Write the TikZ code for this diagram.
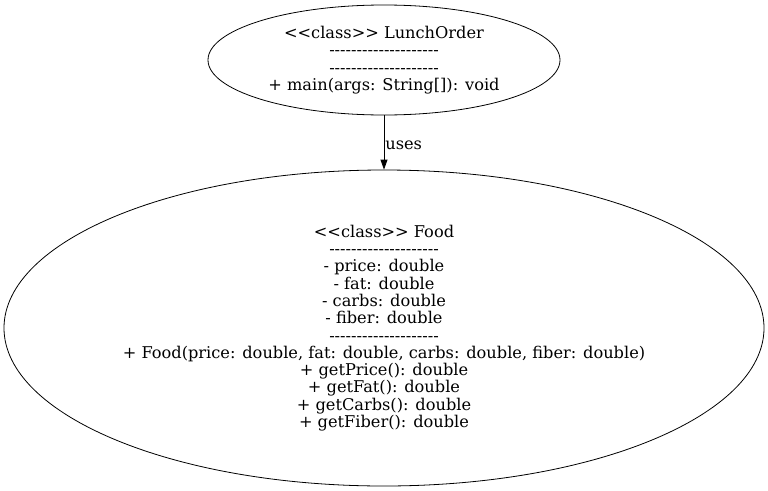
\documentclass[tikz,border=0pt]{standalone}
\usepackage{fontspec}
\setmainfont{DejaVu Serif}
\usetikzlibrary{shapes.geometric,arrows.meta}
\newcommand{\hyrow}{-\kern0pt-\kern0pt-\kern0pt-\kern0pt-\kern0pt-\kern0pt-\kern0pt-\kern0pt-\kern0pt-\kern0pt-\kern0pt-\kern0pt-\kern0pt-\kern0pt-\kern0pt-\kern0pt-\kern0pt-\kern0pt-\kern0pt-}
\newcommand{\stereo}{<\kern0pt<class>\kern0pt>}
\begin{document}
\begin{tikzpicture}[x=1pt,y=-1pt,
  classnode/.style={draw=black,line width=0.8pt,ellipse,inner sep=0pt,align=center,
    font=\fontsize{16.2}{17.3}\selectfont},
  edge/.style={draw=black,line width=0.8pt,-{Triangle[length=10pt,width=7pt]}},
  lbl/.style={font=\fontsize{16.2}{17}\selectfont,inner sep=0pt,anchor=west}]
\useasboundingbox (0,0) rectangle (768,490);
\node[classnode,minimum width=352pt,minimum height=110pt] (lunch) at (384,60)
  {\stereo{} LunchOrder\\ \hyrow\\ \hyrow\\ + main(args: String[]): void};
\node[classnode,minimum width=760pt,minimum height=316pt] (food) at (384,328)
  {\stereo{} Food\\ \hyrow\\ - price: double\\ - fat: double\\ - carbs: double\\ - fiber: double\\ \hyrow\\
   + Food(price: double, fat: double, carbs: double, fiber: double)\\ + getPrice(): double\\
   + getFat(): double\\ + getCarbs(): double\\ + getFiber(): double};
\draw[edge] (lunch) -- node[lbl,xshift=1pt,yshift=-3pt] (uses) {uses} (food);
\end{tikzpicture}
\end{document}
